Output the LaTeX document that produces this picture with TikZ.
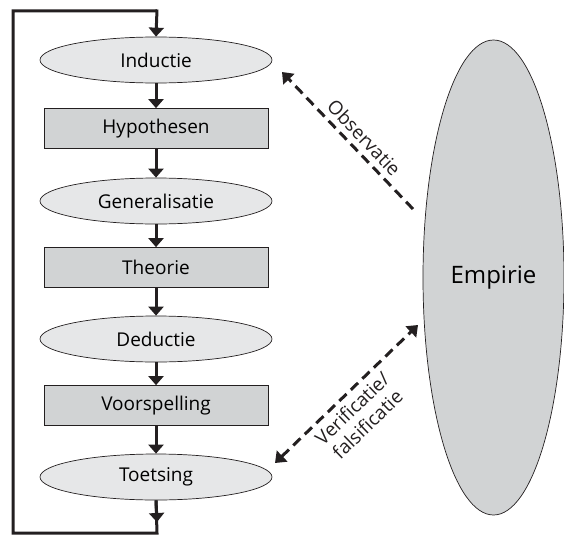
\documentclass[tikz,border=0pt]{standalone}
\usepackage{fontspec}
\setmainfont{Open Sans}
\usetikzlibrary{arrows.meta,shapes.geometric}
\definecolor{ink}{HTML}{231F20}
\definecolor{lightfill}{HTML}{E6E7E8}
\definecolor{darkfill}{HTML}{D1D3D4}
\tikzset{
  ell/.style={ellipse,draw=ink,line width=0.7pt,fill=lightfill,minimum width=232pt,minimum height=46pt,inner sep=0pt,font=\fontsize{19}{22}\selectfont},
  box/.style={rectangle,draw=ink,line width=0.7pt,fill=darkfill,minimum width=224pt,minimum height=40pt,inner sep=0pt,font=\fontsize{19}{22}\selectfont},
  flow/.style={ink,line width=3pt,-{Triangle[width=15pt,length=9pt]}},
  loopline/.style={ink,line width=3pt},
  dashline/.style={ink,line width=3pt,dash pattern=on 10pt off 6pt},
  lbl/.style={font=\fontsize{19}{22}\selectfont,text=ink,align=center}
}
\begin{document}
\begin{tikzpicture}[x=1pt,y=-1pt]
\useasboundingbox (0,0) rectangle (564,535);
\node[ell] (ind) at (156,60) {Inductie};
\node[box] (hyp) at (156,128.5) {Hypothesen};
\node[ell] (gen) at (156,201) {Generalisatie};
\node[box] (the) at (156,267.5) {Theorie};
\node[ell] (ded) at (156,339) {Deductie};
\node[box] (voo) at (156,405.5) {Voorspelling};
\node[ell] (toe) at (156,477) {Toetsing};
\node[ellipse,draw=ink,line width=0.7pt,fill=darkfill,minimum width=141pt,minimum height=475pt,inner sep=0pt,font=\fontsize{24}{28}\selectfont] (emp) at (493.5,277.5) {Empirie};
\coordinate (topleft) at (13,11);
\coordinate (topmid) at (157,11);
\coordinate (botmid) at (157,533);
\coordinate (botleft) at (13,533);
\coordinate (botarr) at (157,522);
\draw[flow] (ind) -- (hyp);
\draw[flow] (hyp) -- (gen);
\draw[flow] (gen) -- (the);
\draw[flow] (the) -- (ded);
\draw[flow] (ded) -- (voo);
\draw[flow] (voo) -- (toe);
\draw[loopline] (toe.south) -- (botmid) -- (botleft) -- (topleft) -- (topmid);
\draw[flow] (toe.south) -- (botarr);
\draw[flow] ([yshift=1.5pt]topmid) -- (ind.north);
\coordinate (obsA) at (413,209);
\coordinate (obsB) at (282,72);
\draw[dashline,-{Triangle[width=15pt,length=10pt]}] (obsA) -- (obsB)
  node[pos=0.45,sloped,above=2pt,lbl] {Observatie};
\coordinate (verA) at (275,463);
\coordinate (verB) at (418,325);
\draw[dashline,{Triangle[width=15pt,length=10pt]}-{Triangle[width=15pt,length=10pt]}] (verA) -- (verB)
  node[pos=0.47,sloped,below=2pt,lbl] {Verificatie/\\falsificatie};
\end{tikzpicture}
\end{document}
